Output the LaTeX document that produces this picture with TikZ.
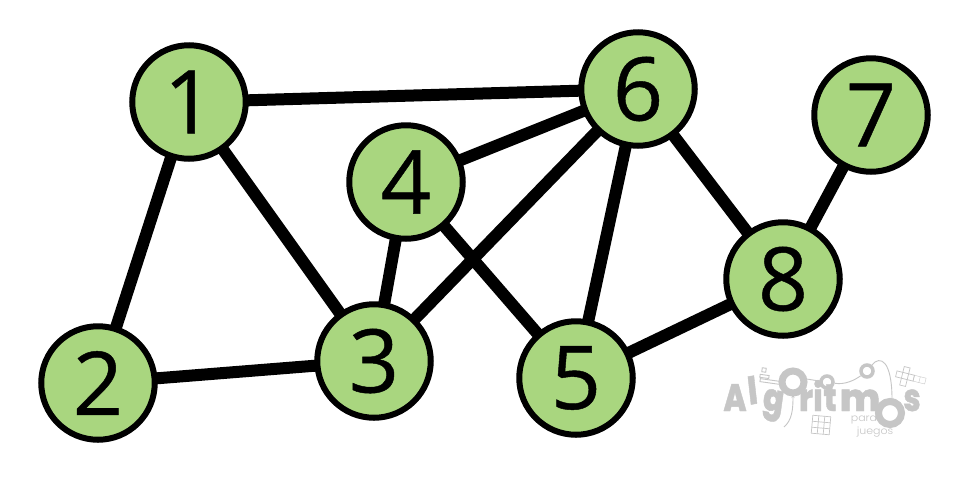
\documentclass[tikz,border=0pt]{standalone}
\usepackage{fontspec}
\newfontfamily\digitfont{Open Sans}[FakeBold=0.5]
\newfontfamily\logofont{Poppins}[UprightFont=* ExtraBold,FakeBold=1.2]
\newfontfamily\logothin{Poppins}[UprightFont=* Light]
\usetikzlibrary{arrows.meta}
\definecolor{nodegreen}{HTML}{A9D67F}
\definecolor{logogray}{HTML}{C6C6C6}
\tikzset{
  vertex/.style={circle,draw=black,fill=nodegreen,line width=6pt,minimum size=113.5pt,inner sep=0pt,font=\digitfont\fontsize{88}{88}\selectfont},
  edge/.style={draw=black,line width=12pt},
  logoletter/.style={text=logogray,inner sep=0pt,anchor=base,font=\logofont\fontsize{38}{38}\selectfont,xscale=.8},
  logosmall/.style={text=logogray,inner sep=0pt,anchor=base,font=\logothin\fontsize{10}{10}\selectfont,xscale=1.1},
  logoline/.style={draw=logogray,line width=.9pt},
  logoring/.style={circle,draw=logogray,inner sep=0pt}
}
\begin{document}
\begin{tikzpicture}[x=1pt,y=-1pt]
\useasboundingbox (0,0) rectangle (960,480);
\fill[white] (0,0) rectangle (960,480);
\coordinate (p1) at (189,102);
\coordinate (p2) at (98,383);
\coordinate (p3) at (374,361);
\coordinate (p4) at (406,182);
\coordinate (p5) at (576,378);
\coordinate (p6) at (638,89);
\coordinate (p7) at (871,115);
\coordinate (p8) at (783,279);
\draw[edge] (p1)--(p6) (p1)--(p2) (p1)--(p3) (p2)--(p3) (p3)--(p4) (p3)--(p6)
  (p4)--(p6) (p4)--(p5) (p5)--(p6) (p5)--(p8) (p6)--(p8) (p7)--(p8);
\node[vertex] (n1) at (p1) {1};
\node[vertex] (n2) at (p2) {2};
\node[vertex] (n3) at (p3) {3};
\node[vertex] (n4) at (p4) {4};
\node[vertex] (n5) at (p5) {5};
\node[vertex] (n6) at (p6) {6};
\node[vertex] (n7) at (p7) {7};
\node[vertex] (n8) at (p8) {8};
% logo
\node[logoletter] (lA) at (735,411) {A};
\node[logoletter,rotate=8] (ll) at (754,404) {l};
\node[logoletter,rotate=-10] (lg) at (772,411) {g};
\node[logoring,line width=7pt,minimum size=22pt] (ro1) at (793,382) {};
\node[logoletter] (lr) at (806,411) {r};
\node[logoletter] (li) at (818,411) {i};
\node[logoletter] (lt) at (830,411) {t};
\node[logoletter,xscale=1.25] (lm) at (860,411) {m};
\node[logoring,line width=7pt,minimum size=23pt] (ro2) at (890,413) {};
\node[logoletter] (ls) at (912,411) {s};
\node[logoring,line width=3.5pt,minimum size=12pt] (rs1) at (827,382) {};
\node[logoring,line width=3.5pt,minimum size=12pt] (rs2) at (867,371) {};
\draw[logoline] (ro1) .. controls (808,379) and (812,380) .. (rs1);
\draw[logoline] (rs1) .. controls (845,385) and (855,380) .. (rs2);
\draw[logoline,-{Stealth[length=4pt]}] (rs2) .. controls (880,355) and (892,360) .. (892,402);
\draw[logoline,-{Stealth[length=4pt]}] (784,427) .. controls (792,420) and (793,410) .. (793,394);
\node[logosmall] (lp) at (864,421) {para};
\node[logosmall] (lj) at (875,434) {juegos};
% bars
\draw[logoline,rotate around={-8:(770,382)}] (760,380) rectangle (780,383);
\draw[logoline,rotate around={-8:(765,376)}] (760,375) rectangle (769,378);
\draw[logoline,rotate around={-8:(764,370)}] (762,368) rectangle (766,372);
% sudoku
\begin{scope}[rotate around={-5:(821,425)},logoline,line width=.7pt]
\foreach \i in {0,6,12,18} {
  \draw (812+\i,416) -- (812+\i,434);
  \draw (812,416+\i) -- (830,416+\i);
}
\end{scope}
% puzzle
\begin{scope}[rotate around={-14:(905,376)},logoline,line width=.7pt]
\draw (896,373) rectangle (914,379);
\draw (902,367) rectangle (908,386);
\draw[line width=.4pt] (914,373) rectangle (926,379) (920,373) -- (920,379);
\end{scope}
\end{tikzpicture}
\end{document}
